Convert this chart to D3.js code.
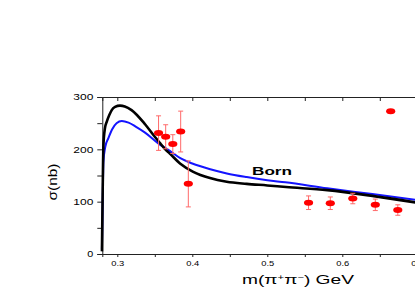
<!DOCTYPE html>
<html lang="en">
<head>
    <meta charset="UTF-8">
    <title>pi+pi- cross section</title>
    <script src="https://d3js.org/d3.v7.min.js"></script>
    <style>
        body { margin: 0; background: #fff; }
        text { font-family: "Liberation Sans", Arial, sans-serif; fill: #000; }
    </style>
</head>
<body>
    <div id="chart"></div>

    <script>
        // measured points (GeV, nb)
        const massPts = [0.355, 0.3645, 0.374, 0.3845, 0.3947, 0.555, 0.584, 0.614, 0.644, 0.674, 0.6645];
        const sigmaPts = [231, 224, 210, 234, 134, 98, 97, 106, 94, 84, 273];
        const sigmaErr = [33, 23, 18, 39, 44, 13, 12, 10, 11, 10, 0];

        // full calculation (black curve)
        const fullMass = [0.2795, 0.2805, 0.2815, 0.2835, 0.286, 0.2895, 0.2926, 0.297, 0.3036, 0.31, 0.319,
            0.337, 0.35, 0.357, 0.364, 0.37, 0.3836, 0.4013, 0.4236, 0.4459, 0.4725, 0.5, 0.525, 0.58, 0.64, 0.7];
        const fullSigma = [5, 120, 208, 240, 253, 266, 275, 281, 283.5, 282, 275,
            248, 224, 212, 200, 192, 173, 157, 145, 138, 134, 131, 128, 122, 111, 98];

        // Born term (blue curve)
        const bornMass = [0.2795, 0.2805, 0.2815, 0.284, 0.288, 0.293, 0.299, 0.306, 0.315, 0.325, 0.337,
            0.355, 0.37, 0.384, 0.4, 0.424, 0.446, 0.4725, 0.5, 0.524, 0.58, 0.64, 0.7];
        const bornSigma = [10, 100, 176, 205, 221, 238, 250, 254, 251, 243, 232,
            211, 197, 183, 173, 162, 154, 147, 141, 137, 125.5, 114.5, 103];

        const xTicks = [0.3, 0.35, 0.4, 0.45, 0.5, 0.55, 0.6, 0.65, 0.7];
        const yTicks = [0, 50, 100, 150, 200, 250, 300];

        const width = 415, height = 291;

        const svg = d3.select('#chart').append('svg')
            .attr('width', width)
            .attr('height', height);

        const x = d3.scaleLinear().domain([0.28, 0.7]).range([102.3, 417.3]);
        const y = d3.scaleLinear().domain([0, 300]).range([254, 97]);

        // squeeze text to the width seen in the picture
        function fit(sel, len) {
            sel.attr('textLength', len).attr('lengthAdjust', 'spacingAndGlyphs');
        }

        // left axis
        const gy = svg.append('g')
            .attr('transform', `translate(${x(0.28)},0)`)
            .call(d3.axisLeft(y).tickValues(yTicks).tickSize(5).tickPadding(4)
                .tickFormat(d => d % 100 === 0 ? d : ''));
        gy.selectAll('text').style('font-size', '8.5px')
            .each(function (d) { fit(d3.select(this), d === 0 ? 6 : 20); });

        // bottom axis
        const gx = svg.append('g')
            .attr('transform', `translate(0,${y(0)})`)
            .call(d3.axisBottom(x).tickValues(xTicks).tickSize(3).tickPadding(3)
                .tickFormat(d => Math.round(d * 100) % 10 === 0 ? d3.format('.1f')(d) : ''));
        gx.selectAll('text').style('font-size', '8px')
            .each(function (d) { if (Math.round(d * 100) % 10 === 0) fit(d3.select(this), 13); });

        // top axis, ticks inside
        svg.append('g')
            .attr('transform', `translate(0,${y(300)})`)
            .call(d3.axisTop(x).tickValues(xTicks).tickSize(-4).tickFormat(''));

        svg.selectAll('.domain').attr('stroke', '#222');
        svg.selectAll('.tick line').attr('stroke', '#222');

        // curves
        const line = d3.line()
            .x(d => x(d[0]))
            .y(d => y(d[1]))
            .curve(d3.curveMonotoneX);

        svg.append('path')
            .datum(d3.zip(bornMass, bornSigma))
            .attr('d', line)
            .attr('fill', 'none')
            .attr('stroke', '#1414ff')
            .attr('stroke-width', 2);

        svg.append('path')
            .datum(d3.zip(fullMass, fullSigma))
            .attr('d', line)
            .attr('fill', 'none')
            .attr('stroke', '#000')
            .attr('stroke-width', 2.6);

        // data with error bars
        const pts = d3.zip(massPts, sigmaPts, sigmaErr);
        const eb = svg.append('g').attr('stroke', '#ff6a6a').attr('stroke-width', 1);
        pts.filter(d => d[2] > 0).forEach(d => {
            eb.append('line')
                .attr('x1', x(d[0])).attr('x2', x(d[0]))
                .attr('y1', y(d[1] - d[2])).attr('y2', y(d[1] + d[2]));
            [d[1] - d[2], d[1] + d[2]].forEach(v => {
                eb.append('line')
                    .attr('x1', x(d[0]) - 2.5).attr('x2', x(d[0]) + 2.5)
                    .attr('y1', y(v)).attr('y2', y(v));
            });
        });

        svg.selectAll('ellipse')
            .data(pts)
            .enter()
            .append('ellipse')
            .attr('cx', d => x(d[0]))
            .attr('cy', d => y(d[1]))
            .attr('rx', 4.6)
            .attr('ry', 3)
            .attr('fill', '#ff0000');

        // labels
        const born = svg.append('text')
            .attr('x', 252)
            .attr('y', 175)
            .style('font-size', '10.5px')
            .style('font-weight', 'bold')
            .text('Born');
        fit(born, 40);

        const yLab = svg.append('text')
            .attr('transform', 'translate(57,182) rotate(-90)')
            .attr('text-anchor', 'middle')
            .style('font-size', '12px')
            .text('σ(nb)');
        fit(yLab, 37);

        const xLab = svg.append('text')
            .attr('x', 242)
            .attr('y', 284)
            .style('font-size', '12px');
        xLab.append('tspan').text('m(π');
        xLab.append('tspan').attr('dy', -4).style('font-size', '7px').text('+');
        xLab.append('tspan').attr('dy', 4).text('π');
        xLab.append('tspan').attr('dy', -4).style('font-size', '7px').text('−');
        xLab.append('tspan').attr('dy', 4).text(') GeV');
        fit(xLab, 112);
    </script>
</body>
</html>
